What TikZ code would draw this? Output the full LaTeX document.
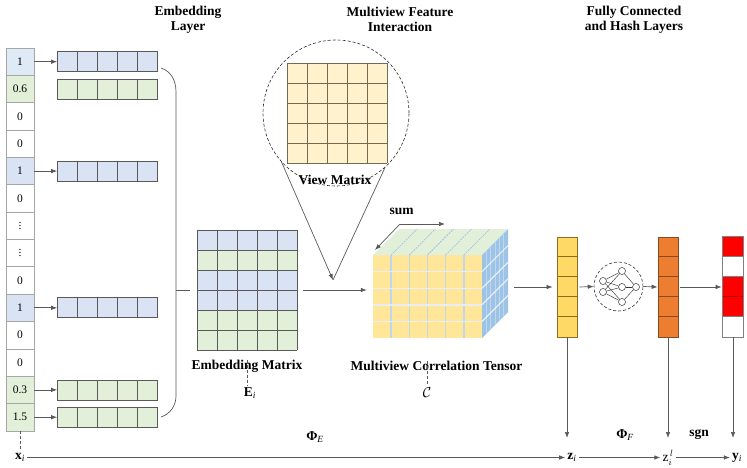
\documentclass[tikz,border=0pt]{standalone}
\usepackage{fontspec}
\setmainfont{Liberation Serif}
\usetikzlibrary{arrows.meta,calc}
\definecolor{cblue}{HTML}{DAE3F3}
\definecolor{cblueA}{HTML}{DEEBF7}
\definecolor{cgreen}{HTML}{E2F0D9}
\definecolor{cpale}{HTML}{FFF2CC}
\definecolor{cyel}{HTML}{FFE699}
\definecolor{cgold}{HTML}{FFD966}
\definecolor{cgoldD}{HTML}{8C6D1F}
\definecolor{corange}{HTML}{ED7D31}
\definecolor{corangeD}{HTML}{8A4A1E}
\definecolor{cred}{HTML}{FF0000}
\definecolor{credD}{HTML}{B00000}
\definecolor{cside}{HTML}{9DC3E6}
\definecolor{cvgap}{HTML}{BDD7EE}
\definecolor{chgap}{HTML}{E9EEF4}
\definecolor{cline}{HTML}{595959}
\definecolor{cgray}{HTML}{A6A6A6}
\definecolor{cgridv}{HTML}{75694F}
\newcommand\smallvdots{\vbox{\baselineskip=3pt\lineskiplimit=0pt\hbox{.}\hbox{.}\hbox{.}}}
\begin{document}
\begin{tikzpicture}[x=1pt,y=-1pt,
  arr/.style={draw=cline, line width=0.7pt, -{Latex[length=6pt,width=4.5pt]}},
  gline/.style={draw=cline, line width=0.7pt},
  colcell/.style={draw=cgray, line width=0.7pt, minimum width=28pt, minimum height=27.35pt, inner sep=0pt, font=\fontsize{11.5}{12}\selectfont},
  rowbox/.style={draw=cline, line width=0.7pt, minimum width=100pt, minimum height=20pt, inner sep=0pt},
  vecbox/.style={line width=0.8pt, minimum width=20pt, minimum height=100pt, inner sep=0pt},
  neuron/.style={circle, draw=black!80, fill=white, line width=0.5pt, minimum size=7pt, inner sep=0pt},
  title/.style={font=\fontsize{13.5}{15}\selectfont\bfseries, align=center},
  lab/.style={font=\fontsize{13.5}{15}\selectfont\bfseries, inner sep=2pt},
  dsh/.style={draw=cline, line width=0.6pt, dash pattern=on 3pt off 2pt}]
\useasboundingbox (0,0) rectangle (747,468);

% titles
\node[title] (t1) at (188,19.5) {Embedding\\Layer};
\node[title] (t2) at (400,19.5) {Multiview Feature\\Interaction};
\node[title] (t3) at (634,19.5) {Fully Connected\\and Hash Layers};

% input column
\foreach \t/\f [count=\i from 0] in {1/cblueA, 0.6/cgreen, 0/white, 0/white, 1/cblue, 0/white, \smallvdots/white, \smallvdots/white, 0/white, 1/cblue, 0/white, 0/white, 0.3/cgreen, 1.5/cgreen}
  \node[colcell, fill=\f] (c\i) at (20, 48+13.675+27.35*\i) {\t};

% embedding rows
\foreach \n/\cc/\f in {r1/0/cblue, r2/1/cgreen, r3/4/cblue, r4/9/cblue, r5/12/cgreen, r6/13/cgreen} {
  \node[rowbox, fill=\f] (\n) at (107.5, 48+13.675+27.35*\cc) {};
  \foreach \k in {1,...,4}
    \draw[gline] ($(\n.north west)+(20*\k,0)$) -- ($(\n.south west)+(20*\k,0)$);
}
\foreach \a/\b in {0/r1, 4/r3, 9/r4, 12/r5, 13/r6}
  \draw[arr] (c\a.east) -- (c\a.east -| \b.west);

% bracket
\draw[gline] (161,68) .. controls (170,71) and (176,79) .. (176,92) -- (176,396) .. controls (176,406) and (170,414) .. (161,417);
\draw[gline] (176,290) -- (190,290);

% embedding matrix
\node[minimum width=100pt, minimum height=120pt, inner sep=0pt] (em) at (247,290) {};
\foreach \f [count=\r from 0] in {cblue,cgreen,cblue,cblue,cgreen,cgreen}
  \fill[\f] (197,230+20*\r) rectangle ++(100,20);
\foreach \k in {0,...,5} \draw[gline] (197+20*\k,230) -- ++(0,120);
\foreach \k in {0,...,6} \draw[gline] (197,230+20*\k) -- ++(100,0);
\node[lab] (emlab) at (247,366) {Embedding Matrix};
\node[lab] (Ei) at (250,393) {E\textsubscript{\normalfont\itshape i}};
\draw[dsh] ($(emlab.north)+(0,2)$) -- (emlab.north |- Ei.north);

% view matrix in circle
\node[circle, draw=black!85, line width=0.6pt, dash pattern=on 3pt off 2pt, minimum size=146pt, inner sep=0pt] (vc) at (336,113) {};
\fill[cpale] (287,63) rectangle (387,163);
\foreach \k in {0,...,5} \draw[cgridv, line width=0.7pt] (287+20*\k,63) -- ++(0,100);
\foreach \k in {0,...,5} \draw[cgridv, line width=0.7pt] (287,63+20*\k) -- ++(100,0);
\node[lab] (vmlab) at (335,180) {View Matrix};
\coordinate (conv) at (333,280);
\draw[arr] (vc.222) -- (conv);
\draw[gline] (vc.312) -- (conv);

% tensor cube
\fill[cyel] (373,255) rectangle (482,338);
\foreach \k in {1,...,5} \draw[cvgap, line width=1.4pt] (373+109/6*\k,255) -- ++(0,83);
\foreach \k in {1,...,4} \draw[chgap, line width=1.4pt] (373,255+16.6*\k) -- ++(109,0);
\fill[cgreen] (373,255) -- (399,229) -- (508,229) -- (482,255) -- cycle;
\foreach \k in {1,...,5} \draw[cside, line width=0.8pt, dash pattern=on 2pt off 1pt] (373+109/6*\k,255) -- ++(26,-26);
\fill[cside] (482,255) -- (508,229) -- (508,312) -- (482,338) -- cycle;
\foreach \j in {1,...,5} \draw[cvgap, line width=0.5pt] (482+26/6*\j, 255-26/6*\j) -- ++(0,83);
\foreach \k in {1,...,4} \draw[chgap, line width=1.2pt] (482,255+16.6*\k) -- ++(26,-26);
\node[minimum width=109pt, minimum height=83pt, inner sep=0pt] (cube) at (427.5,296.5) {};
\coordinate (cubeout) at (508,287);
\draw[arr] ([xshift=6pt]em.east) -- ([xshift=-6pt]em.east -| cube.west);

\node[lab] (sum) at (401.5,211.5) {sum};
\coordinate (sumo) at (400,224);
\coordinate (sumR) at (445,224);
\coordinate (sumD) at (375,250);
\draw[arr] (sumo) -- (sumR);
\draw[arr] (sumo) -- (sumD);

\node[lab] (ctlab) at (436.5,366) {Multiview Correlation Tensor};
\node[inner sep=2pt, font=\fontsize{13.5}{15}\selectfont] (C) at (427,393) {$\mathcal{C}$};
\draw[dsh] ($(C.north |- ctlab.north)+(0,2)$) -- (C.north);

% right side vectors
\node[vecbox, draw=cgoldD, fill=cgold] (zv) at (567,287) {};
\foreach \k in {1,...,4} \draw[cgoldD, line width=0.8pt] ($(zv.north west)+(0,20*\k)$) -- ($(zv.north east)+(0,20*\k)$);
\node[vecbox, draw=corangeD, fill=corange] (ov) at (668,287) {};
\foreach \k in {1,...,4} \draw[corangeD, line width=0.8pt] ($(ov.north west)+(0,20*\k)$) -- ($(ov.north east)+(0,20*\k)$);
\node[vecbox, fill=white] (yv) at (733,287) {};
\foreach \k in {0,2,3} \fill[cred] ($(yv.north west)+(0,20*\k)$) rectangle ++(20,20);
\foreach \k in {1,...,4} \draw[gray, line width=0.7pt] ($(yv.north west)+(0,20*\k)$) -- ($(yv.north east)+(0,20*\k)$);
\draw[credD, line width=0.7pt] ($(yv.north west)+(0,60)$) -- ($(yv.north east)+(0,60)$);
\draw[gray, line width=0.8pt] (yv.north west) rectangle (yv.south east);

\draw[arr] ([xshift=6pt]cubeout) -- ([xshift=-4pt]zv.west);

% neural net
\node[circle, draw=black!80, line width=0.6pt, dash pattern=on 3pt off 2pt, minimum size=49pt, inner sep=0pt] (nn) at (618.5,286.5) {};
\node[neuron] (i1) at (603,281) {};
\node[neuron] (i2) at (603,292) {};
\node[neuron] (h1) at (622,271) {};
\node[neuron] (h2) at (622,287) {};
\node[neuron] (h3) at (622,302) {};
\node[neuron] (o1) at (636,287) {};
\foreach \a in {i1,i2} \foreach \b in {h1,h2,h3} \draw[black!80, line width=0.45pt] (\a) -- (\b);
\foreach \b in {h1,h2,h3} \draw[black!80, line width=0.45pt] (\b) -- (o1);

\draw[arr] ([xshift=2pt]zv.east) -- (nn.west);
\draw[arr] (nn.east) -- (ov.west);
\draw[arr] ([xshift=2pt]ov.east) -- ([xshift=-1pt]yv.west);

% bottom labels
\node[lab] (xi) at (20,457.5) {x\textsubscript{\normalfont\itshape i}};
\node[lab] (zi) at (572,457.5) {z\textsubscript{\normalfont\itshape i}};
\node[inner sep=2pt, font=\fontsize{13.5}{15}\selectfont] (zl) at (668,457.5) {z$_{i}^{\,l}$};
\node[lab] (yi) at (737,457.5) {y\textsubscript{\normalfont\itshape i}};
\node[lab] (phiE) at (315,437) {Φ\textsubscript{\normalfont\itshape E}};
\node[lab] (phiF) at (625,435) {Φ\textsubscript{\normalfont\itshape F}};
\node[lab] (sgn) at (699,435) {sgn};

\draw[dsh] (c13.south) -- (xi.north);

\coordinate (zd) at (567,438);
\coordinate (od) at (668,438);
\coordinate (yd) at (733,438);
\draw[arr] (zv.south) -- (zd);
\draw[arr] (ov.south) -- (od);
\draw[arr] (yv.south) -- (yd);

\draw[arr] (xi.east) -- (xi.east -| zi.west);
\draw[arr] (zi.east) -- (zi.east -| zl.west);
\draw[arr] (zl.east) -- (zl.east -| yi.west);
\end{tikzpicture}
\end{document}
